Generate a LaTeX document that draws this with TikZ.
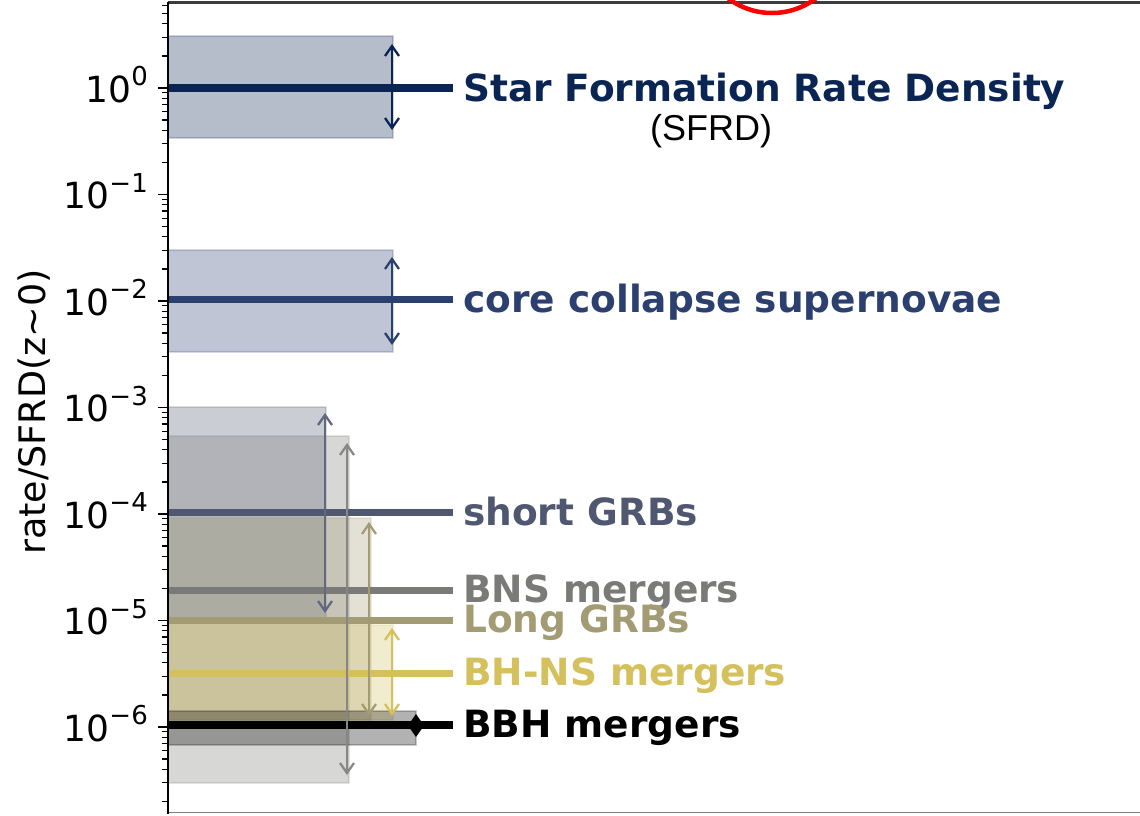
\documentclass[tikz,border=0pt]{standalone}
\usepackage{fontspec}
\setmainfont{DejaVu Sans}
\newfontfamily\arialf{Liberation Sans}
\usetikzlibrary{arrows.meta}

% category colours
\definecolor{csfrd}{RGB}{10,36,84}
\definecolor{ccc}{RGB}{44,64,112}
\definecolor{csgrb}{RGB}{79,88,112}
\definecolor{cbns}{RGB}{122,122,120}
\definecolor{clgrb}{RGB}{163,155,115}
\definecolor{cbhns}{RGB}{212,192,92}
\definecolor{cbbh}{RGB}{0,0,0}
\definecolor{spinegray}{RGB}{60,60,60}

\tikzset{
  band/.style={fill=#1, fill opacity=0.3, draw=#1, draw opacity=0.2, line width=1.2pt},
  rateline/.style={draw=#1, line width=7pt},
  rangearrow/.style={draw=#1, line width=2.3pt,
    {Straight Barb[length=10pt,width=14pt]}-{Straight Barb[length=10pt,width=14pt]}},
  ratelabel/.style={text=#1, anchor=base west, inner sep=0pt,
    font=\fontsize{37.5}{37.5}\selectfont\bfseries},
  ticklabel/.style={anchor=base east, inner sep=0pt, font=\fontsize{36}{36}\selectfont},
  majortick/.style={line width=1.6pt, black},
  minortick/.style={line width=1.2pt, black},
}

% tick label: 10 with a raised exponent
\newcommand\decade[1]{10\raisebox{0.45em}{\fontsize{26}{26}\selectfont #1}}

\begin{document}
\begin{tikzpicture}[x=1pt, y=-1pt]
\useasboundingbox (0,0) rectangle (1140,815);
\clip (0,0) rectangle (1140,815);

% ---- shaded ranges ----
\path[band=csfrd] (168,36) rectangle (393,138);
\path[band=ccc]   (168,250) rectangle (393,352);
\path[band=csgrb] (168,407) rectangle (326,619);
\path[band=cbns]  (168,436) rectangle (349,783);
\path[band=clgrb] (168,518) rectangle (371,720);
\path[band=cbhns] (168,625) rectangle (393,720);
\path[band=cbbh]  (168,711) rectangle (416,745);

% ---- rate levels ----
\coordinate (sfrdL) at (168,88);  \coordinate (sfrdR) at (453,88);
\coordinate (ccL)   at (168,299); \coordinate (ccR)   at (453,299);
\coordinate (sgrbL) at (168,512); \coordinate (sgrbR) at (453,512);
\coordinate (bnsL)  at (168,590); \coordinate (bnsR)  at (453,590);
\coordinate (lgrbL) at (168,620); \coordinate (lgrbR) at (453,620);
\coordinate (bhnsL) at (168,673); \coordinate (bhnsR) at (453,673);
\coordinate (bbhL)  at (168,725); \coordinate (bbhR)  at (453,725);

\draw[rateline=csfrd, line width=8pt] (sfrdL) -- (sfrdR);
\draw[rateline=ccc]   (ccL) -- (ccR);
\draw[rateline=csgrb] (sgrbL) -- (sgrbR);
\draw[rateline=cbns]  (bnsL) -- (bnsR);
\draw[rateline=clgrb] (lgrbL) -- (lgrbR);
\draw[rateline=cbhns] (bhnsL) -- (bhnsR);
\draw[rateline=cbbh, line width=8pt] (bbhL) -- (bbhR);

% ---- uncertainty arrows ----
\coordinate (sfrdT) at (392,44);  \coordinate (sfrdB) at (392,130);
\coordinate (ccT)   at (392,257); \coordinate (ccB)   at (392,345);
\coordinate (sgrbT) at (325,413); \coordinate (sgrbB) at (325,613);
\coordinate (bnsT)  at (347,443); \coordinate (bnsB)  at (347,775);
\coordinate (lgrbT) at (369,522); \coordinate (lgrbB) at (369,716);
\coordinate (bhnsT) at (392,628); \coordinate (bhnsB) at (392,716);
\coordinate (bbhT)  at (416,714); \coordinate (bbhB)  at (416,737);

\draw[rangearrow=csfrd] (sfrdT) -- (sfrdB);
\draw[rangearrow=ccc]   (ccT) -- (ccB);
\draw[rangearrow={csgrb!90!white}] (sgrbT) -- (sgrbB);
\draw[rangearrow={cbns!90!white}]  (bnsT) -- (bnsB);
\draw[rangearrow=clgrb] (lgrbT) -- (lgrbB);
\draw[rangearrow=cbhns] (bhnsT) -- (bhnsB);
\draw[rangearrow=cbbh, line width=3.5pt] (bbhT) -- (bbhB);

% ---- labels ----
\node[ratelabel=csfrd] (lsfrd) at (463,101) {Star Formation Rate Density};
\node[anchor=base, inner sep=0pt, font=\arialf\fontsize{36}{36}\selectfont] (lsfrdabbr) at (711,140) {(SFRD)};
\node[ratelabel=ccc]   (lcc)   at (463,312) {core collapse supernovae};
\node[ratelabel=csgrb] (lsgrb) at (463,525) {short GRBs};
\node[ratelabel=cbns]  (lbns)  at (463,602) {BNS mergers};
\node[ratelabel=clgrb] (llgrb) at (463,632) {Long GRBs};
\node[ratelabel=cbhns] (lbhns) at (463,685) {BH-NS mergers};
\node[ratelabel=cbbh]  (lbbh)  at (463,737) {BBH mergers};

% ---- axes frame ----
\draw[spinegray, line width=2.5pt] (168,2.5) -- (1140,2.5);
\draw[gray, line width=1.5pt] (168,812.5) -- (1140,812.5);
\draw[black, line width=2pt] (168,2) -- (168,814);

% ---- log ticks: decade spacing 106.5 px, 10^0 at y = 88 ----
\begin{scope}
  \clip (140,3) rectangle (170,813);
  \foreach \n in {-7,...,0} {
    \draw[majortick] (158,{88-106.5*\n}) -- (168,{88-106.5*\n});
    \foreach \k in {2,...,9} {
      \draw[minortick] (162,{88-106.5*(\n+log10(\k))}) -- (168,{88-106.5*(\n+log10(\k))});
    }
  }
\end{scope}
\foreach \n/\lab in {0/0,1/−1,2/−2,3/−3,4/−4,5/−5,6/−6} {
  \node[ticklabel] (tick\n) at (148,{88+106.5*\n+14}) {\decade{\lab}};
}

% ---- y axis title ----
\node[rotate=90, inner sep=0pt, font=\fontsize{36.5}{36.5}\selectfont] (ytitle) at (34,412)
  {rate/SFRD(z\textasciitilde 0)};

% ---- highlight ring at the top edge ----
\draw[red, line width=4.5pt] (772,-60) circle (73);
\end{tikzpicture}
\end{document}
